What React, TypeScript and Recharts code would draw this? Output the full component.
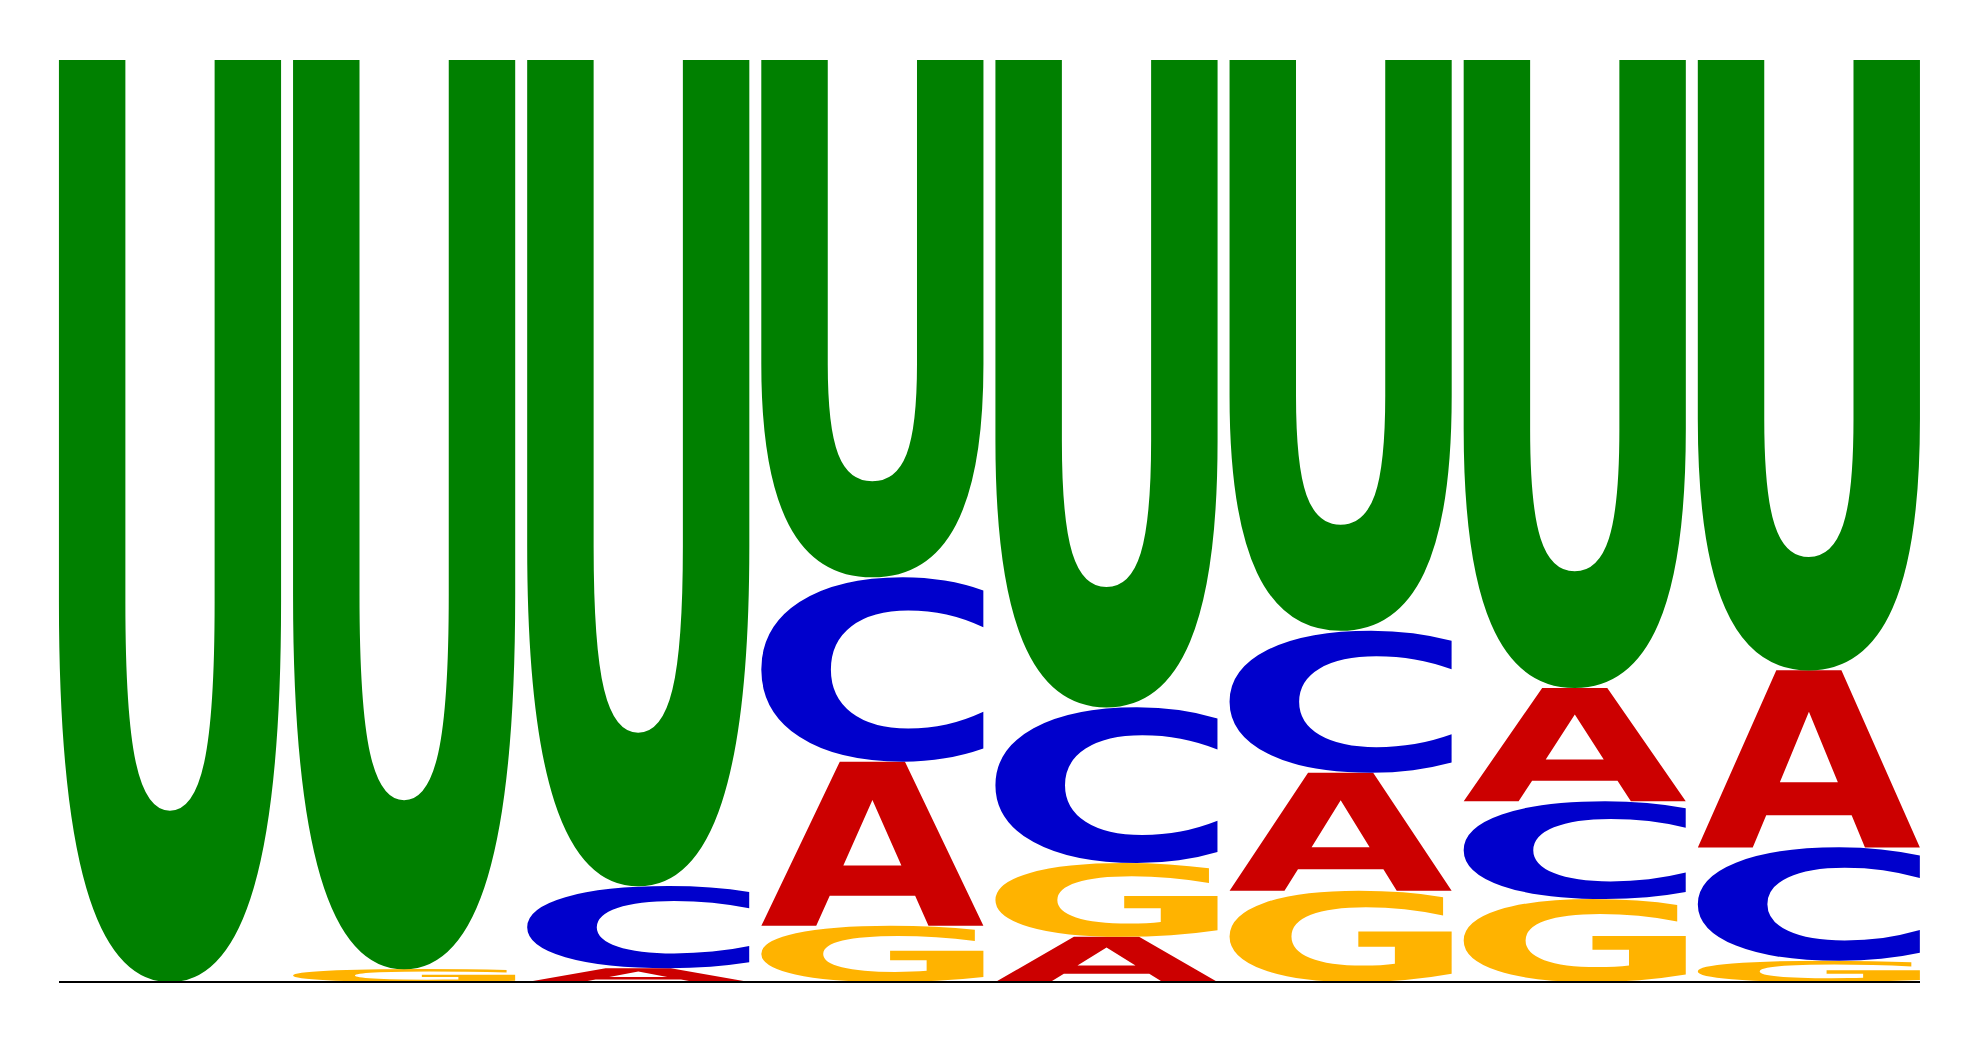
import { BarChart, Bar, XAxis, YAxis } from "recharts";

const positions = ["1", "2", "3", "4", "5", "6", "7", "8"];
const probA = [0, 0, 0.015, 0.178, 0.049, 0.128, 0.123, 0.192];
const probC = [0, 0, 0.089, 0.2, 0.169, 0.154, 0.106, 0.123];
const probG = [0, 0.014, 0, 0.061, 0.08, 0.099, 0.09, 0.023];
const probU = [1, 0.986, 0.896, 0.561, 0.702, 0.619, 0.681, 0.662];

const colors: Record<string, string> = {
  A: "#CC0000",
  C: "#0000CC",
  G: "#FFB300",
  U: "#008000",
};

const FONT = '"DejaVu Sans"';

// stack letters smallest at the bottom
const rows = positions.map((pos, i) => {
  const cells = [
    ["A", probA[i]],
    ["C", probC[i]],
    ["G", probG[i]],
    ["U", probU[i]],
  ] as [string, number][];
  cells.sort((a, b) => a[1] - b[1]);
  const row: Record<string, string | number> = { pos };
  cells.forEach(([letter, v], k) => {
    row[`l${k}`] = v;
    row[`c${k}`] = letter;
  });
  return row;
});

// ink bounds of a glyph, found by drawing it on a canvas and scanning pixels
const metricsCache: Record<string, { l: number; r: number; a: number; d: number }> = {};
function inkBox(letter: string) {
  if (metricsCache[letter]) return metricsCache[letter];
  const S = 1600;
  const ox = 300;
  const oy = 1200;
  const cv = document.createElement("canvas");
  cv.width = S;
  cv.height = S;
  const ctx = cv.getContext("2d")!;
  ctx.font = `bold 1000px ${FONT}`;
  ctx.fillStyle = "#000";
  ctx.fillText(letter, ox, oy);
  const px = ctx.getImageData(0, 0, S, S).data;
  let minX = S, minY = S, maxX = -1, maxY = -1;
  for (let yy = 0; yy < S; yy++) {
    for (let xx = 0; xx < S; xx++) {
      if (px[(yy * S + xx) * 4 + 3] > 127) {
        if (xx < minX) minX = xx;
        if (xx > maxX) maxX = xx;
        if (yy < minY) minY = yy;
        if (yy > maxY) maxY = yy;
      }
    }
  }
  const box = { l: ox - minX, r: maxX + 1 - ox, a: oy - minY, d: maxY + 1 - oy };
  metricsCache[letter] = box;
  return box;
}

// letter stretched to fill the bar's rectangle
function Glyph(props: any) {
  const { x, y, width, height, letter } = props;
  if (!letter || !height || height <= 0.5) return null;
  const b = inkBox(letter);
  const sx = width / (b.l + b.r);
  const sy = height / (b.a + b.d);
  return (
    <text
      x={0}
      y={0}
      fontSize={1000}
      fontFamily={FONT}
      fontWeight="bold"
      fill={colors[letter]}
      transform={`translate(${x},${y}) scale(${sx},${sy}) translate(${b.l},${b.a})`}
    >
      {letter}
    </text>
  );
}

export default function App() {
  return (
    <div style={{ width: 1980, height: 1044, background: "#fff" }}>
      <style>{`body{margin:0}`}</style>
      <BarChart
        width={1980}
        height={1044}
        data={rows}
        margin={{ top: 60, right: 60, bottom: 61, left: 59 }}
        barCategoryGap={6}
      >
        <XAxis
          dataKey="pos"
          height={1}
          tick={false}
          tickLine={false}
          padding={{ left: -6, right: -6 }}
          axisLine={{ stroke: "#000", strokeWidth: 2 }}
        />
        <YAxis hide domain={[0, 1]} allowDataOverflow />
        {[0, 1, 2, 3].map((k) => (
          <Bar
            key={k}
            dataKey={`l${k}`}
            stackId="logo"
            isAnimationActive={false}
            shape={(p: any) => <Glyph {...p} letter={p.payload?.[`c${k}`]} />}
          />
        ))}
      </BarChart>
    </div>
  );
}
